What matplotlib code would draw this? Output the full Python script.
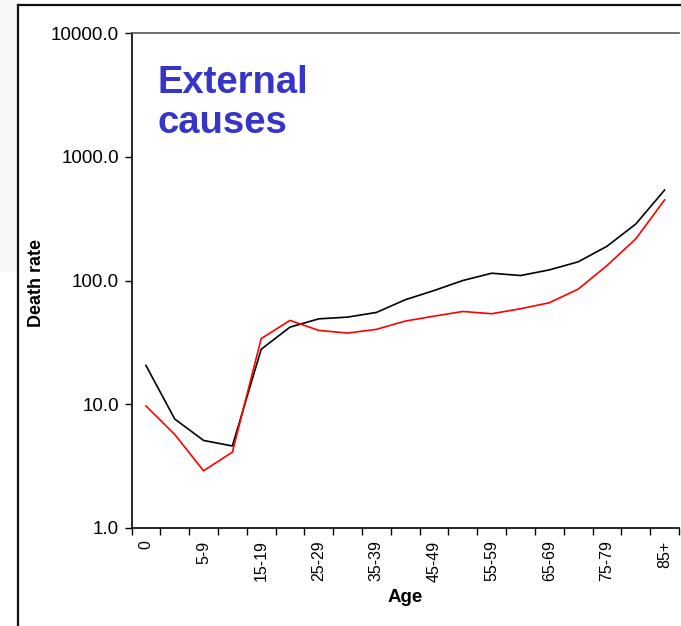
import matplotlib
matplotlib.use("Agg")
import matplotlib.pyplot as plt
from matplotlib.lines import Line2D
from matplotlib.patches import Rectangle
import numpy as np

categories = ["0", "1-4", "5-9", "10-14", "15-19", "20-24", "25-29", "30-34", "35-39",
              "40-44", "45-49", "50-54", "55-59", "60-64", "65-69", "70-74", "75-79",
              "80-84", "85+"]
series_black = [20.6, 7.6, 5.1, 4.6, 27.8, 42.0, 49.0, 50.6, 55.2, 69.9, 83.0, 100.0,
                114.5, 109.7, 121.8, 141.5, 189.0, 286.0, 538.0]
series_red = [9.7, 5.7, 2.9, 4.1, 33.9, 47.6, 39.5, 37.6, 40.3, 47.0, 51.5, 56.2,
              53.9, 59.1, 66.1, 85.1, 132.0, 217.0, 448.0]
ytick_values = [1, 10, 100, 1000, 10000]
ytick_labels = ["1.0", "10.0", "100.0", "1000.0", "10000.0"]

plt.rcParams['font.family'] = ['Liberation Sans', 'DejaVu Sans']

W, H = 681, 626
fig = plt.figure(figsize=(W / 100, H / 100), dpi=100)

# very faint grey strip outside the frame (left)
fig.add_artist(Rectangle((0, 1 - 272 / H), 18 / W, 272 / H, transform=fig.transFigure,
                         facecolor='#f8f8f8', edgecolor='none', zorder=0))

ax = fig.add_axes([131.5 / W, 1 - 528 / H, (679 - 131.5) / W, (528 - 33) / H])

x = np.arange(len(categories))
ax.plot(x, series_black, color="black", lw=1.2)
ax.plot(x, series_red, color="#ff0000", lw=1.2)

ax.set_yscale("log")
ax.set_ylim(1, 10000)
ax.set_xlim(-0.5, len(categories) - 0.5)
ax.set_yticks(ytick_values)
ax.set_yticklabels(ytick_labels, fontsize=13.5)
ax.yaxis.set_minor_locator(matplotlib.ticker.NullLocator())
ax.tick_params(axis='y', which='major', length=5, width=1, pad=4)

# boundary ticks (no labels), labels at category centers
ax.set_xticks(np.arange(-0.5, len(categories), 1.0))
ax.set_xticklabels([])
ax.set_xticks(x[::2], minor=True)
ax.set_xticklabels(categories[::2], minor=True, rotation=90, fontsize=11.5)
ax.tick_params(axis='x', which='major', length=5, width=1)
ax.tick_params(axis='x', which='minor', length=0, pad=9)

ax.spines['right'].set_visible(False)
ax.spines['top'].set_color('#555555')
ax.spines['top'].set_linewidth(1.2)
ax.spines['left'].set_linewidth(1.2)
ax.spines['bottom'].set_linewidth(1.2)

ax.set_xlabel("Age", fontsize=13.5, fontweight='bold', labelpad=5)
ax.set_ylabel("Death rate", fontsize=13, fontweight='bold')
ax.yaxis.set_label_coords(-0.158, 0.495)

ax.text(0.048, 0.935, "External\ncauses", transform=ax.transAxes, fontsize=27.5,
        fontweight='bold', color="#3535C8", va='top', ha='left', linespacing=1.12)

# outer frame lines
fig.add_artist(Line2D([18 / W, 18 / W], [0, 1 - 5 / H], transform=fig.transFigure,
                      color='#111111', lw=1.6))
fig.add_artist(Line2D([18 / W, 1], [1 - 5 / H, 1 - 5 / H], transform=fig.transFigure,
                      color='#111111', lw=1.6))

fig.savefig("out.png", dpi=100)
